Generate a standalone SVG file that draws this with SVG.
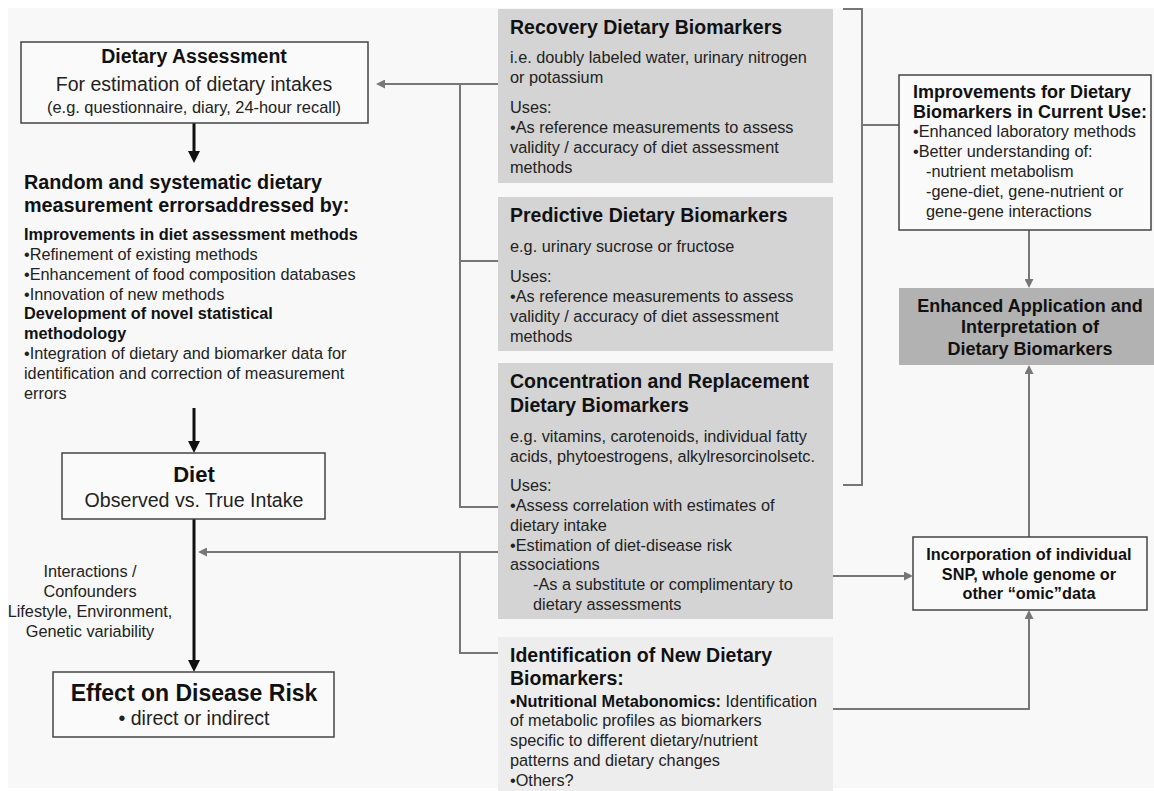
<svg xmlns="http://www.w3.org/2000/svg" width="1154" height="791" viewBox="0 0 1154 791">
<style>
text{font-family:"Liberation Sans",Arial,Helvetica,sans-serif;fill:#222}
.b{font-weight:bold;fill:#111}
.body{font-size:16.3px}
.t195{font-size:19.5px}
.t18{font-size:18px}
.mid{text-anchor:middle}
.gl{fill:none;stroke:#777;stroke-width:2}
.bl{fill:none;stroke:#111;stroke-width:3}
.box{fill:#fafafa;stroke:#444;stroke-width:1.5}
.gbox{fill:#d4d4d4}
</style>
<defs>
<marker id="ag" viewBox="0 0 10 10" refX="5" refY="5" markerWidth="9" markerHeight="9" markerUnits="userSpaceOnUse" orient="auto"><path d="M0,0 L10,5 L0,10 z" fill="#777"/></marker>
<marker id="ab" viewBox="0 0 10 10" refX="5" refY="5" markerWidth="12" markerHeight="12" markerUnits="userSpaceOnUse" orient="auto"><path d="M0,0 L10,5 L0,10 z" fill="#111"/></marker>
</defs>
<rect x="0" y="0" width="1154" height="791" fill="#ffffff"/>
<rect x="8" y="8" width="1146" height="780" fill="#f8f8f8"/>

<g id="connectors">
<path class="gl" d="M498,84 H380.5" marker-end="url(#ag)"/>
<path class="gl" d="M460,84 V507 H498"/>
<path class="gl" d="M460,261 H498"/>
<path class="gl" d="M498,552 H202.5" marker-end="url(#ag)"/>
<path class="gl" d="M460,552 V653 H498"/>
<path class="gl" d="M843,9 H862 V485 H843"/>
<path class="gl" d="M862,125 H899"/>
<path class="gl" d="M1029,230 V283.5" marker-end="url(#ag)"/>
<path class="gl" d="M1029,537 V369.5" marker-end="url(#ag)"/>
<path class="gl" d="M833,576 H908.5" marker-end="url(#ag)"/>
<path class="gl" d="M833,709 H1029 V614.5" marker-end="url(#ag)"/>
<path class="bl" d="M194,123 V157" marker-end="url(#ab)"/>
<path class="bl" d="M194,408 V447" marker-end="url(#ab)"/>
<path class="bl" d="M194,519 V666" marker-end="url(#ab)"/>
</g>

<g id="dietary-assessment">
<rect class="box" x="21" y="42" width="347" height="81"/>
<text class="b t195 mid" x="194" y="63">Dietary Assessment</text>
<text class="t195 mid" x="194" y="91">For estimation of dietary intakes</text>
<text class="mid" x="194" y="113" font-size="16.4">(e.g. questionnaire, diary, 24-hour recall)</text>
</g>

<g id="measurement-errors">
<text class="b" x="24" font-size="19.8"><tspan x="24" y="189">Random and systematic dietary</tspan><tspan x="24" y="212">measurement errorsaddressed by:</tspan></text>
<text class="body" x="24">
<tspan class="b" x="24" y="240">Improvements in diet assessment methods</tspan>
<tspan x="24" y="260">•Refinement of existing methods</tspan>
<tspan x="24" y="280">•Enhancement of food composition databases</tspan>
<tspan x="24" y="300">•Innovation of new methods</tspan>
<tspan class="b" x="24" y="319">Development of novel statistical</tspan>
<tspan class="b" x="24" y="339">methodology</tspan>
<tspan x="24" y="359">•Integration of dietary and biomarker data for</tspan>
<tspan x="24" y="379">identification and correction of measurement</tspan>
<tspan x="24" y="399">errors</tspan>
</text>
</g>

<g id="diet">
<rect class="box" x="62" y="453" width="263" height="66"/>
<text class="b mid" x="194" y="482" font-size="22">Diet</text>
<text class="mid" x="194" y="507" font-size="19.6">Observed vs. True Intake</text>
</g>

<g id="interactions-label">
<text class="body mid" x="90"><tspan x="90" y="577">Interactions /</tspan><tspan x="90" y="597">Confounders</tspan><tspan x="90" y="617">Lifestyle, Environment,</tspan><tspan x="90" y="637">Genetic variability</tspan></text>
</g>

<g id="effect-disease-risk">
<rect class="box" x="53" y="672" width="281" height="65"/>
<text class="b mid" x="194" y="701" font-size="23">Effect on Disease Risk</text>
<text class="mid" x="194" y="725" font-size="19.5">• direct or indirect</text>
</g>

<g id="recovery">
<rect class="gbox" x="498" y="9" width="335" height="174"/>
<text class="b t195" x="510" y="34">Recovery Dietary Biomarkers</text>
<text class="body"><tspan x="510" y="63">i.e. doubly labeled water, urinary nitrogen</tspan><tspan x="510" y="83">or potassium</tspan><tspan x="510" y="113">Uses:</tspan><tspan x="510" y="133">•As reference measurements to assess</tspan><tspan x="510" y="153">validity / accuracy of diet assessment</tspan><tspan x="510" y="173">methods</tspan></text>
</g>

<g id="predictive">
<rect class="gbox" x="498" y="197" width="335" height="154"/>
<text class="b t195" x="510" y="222">Predictive Dietary Biomarkers</text>
<text class="body"><tspan x="510" y="252">e.g. urinary sucrose or fructose</tspan><tspan x="510" y="282">Uses:</tspan><tspan x="510" y="302">•As reference measurements to assess</tspan><tspan x="510" y="322">validity / accuracy of diet assessment</tspan><tspan x="510" y="342">methods</tspan></text>
</g>

<g id="concentration">
<rect class="gbox" x="498" y="363" width="335" height="256"/>
<text class="b t195"><tspan x="510" y="388">Concentration and Replacement</tspan><tspan x="510" y="412">Dietary Biomarkers</tspan></text>
<text class="body"><tspan x="510" y="442">e.g. vitamins, carotenoids, individual fatty</tspan><tspan x="510" y="462">acids, phytoestrogens, alkylresorcinolsetc.</tspan><tspan x="510" y="491">Uses:</tspan><tspan x="510" y="511">•Assess correlation with estimates of</tspan><tspan x="510" y="531">dietary intake</tspan><tspan x="510" y="551">•Estimation of diet-disease risk</tspan><tspan x="510" y="570">associations</tspan><tspan x="533" y="590">-As a substitute or complimentary to</tspan><tspan x="533" y="610">dietary assessments</tspan></text>
</g>

<g id="identification">
<rect x="498" y="637" width="335" height="154" fill="#ededed"/>
<text class="b t195"><tspan x="510" y="662">Identification of New Dietary</tspan><tspan x="510" y="685">Biomarkers:</tspan></text>
<text class="body"><tspan x="510" y="707"><tspan class="b">•Nutritional Metabonomics:</tspan> Identification</tspan><tspan x="510" y="726">of metabolic profiles as biomarkers</tspan><tspan x="510" y="746">specific to different dietary/nutrient</tspan><tspan x="510" y="766">patterns and dietary changes</tspan><tspan x="510" y="786">•Others?</tspan></text>
</g>

<g id="improvements-current-use">
<rect class="box" x="899" y="75" width="252" height="155"/>
<text class="b t18"><tspan x="913" y="98">Improvements for Dietary</tspan><tspan x="913" y="118">Biomarkers in Current Use:</tspan></text>
<text class="body"><tspan x="913" y="137">•Enhanced laboratory methods</tspan><tspan x="913" y="157">•Better understanding of:</tspan><tspan x="926" y="177">-nutrient metabolism</tspan><tspan x="926" y="197">-gene-diet, gene-nutrient or</tspan><tspan x="926" y="217">gene-gene interactions</tspan></text>
</g>

<g id="enhanced-application">
<rect x="899" y="288" width="255" height="77" fill="#b2b2b2"/>
<text class="b t18 mid"><tspan x="1030" y="312">Enhanced Application and</tspan><tspan x="1030" y="333">Interpretation of</tspan><tspan x="1030" y="355">Dietary Biomarkers</tspan></text>
</g>

<g id="incorporation">
<rect class="box" x="913" y="537" width="234" height="73"/>
<text class="b body mid"><tspan x="1029" y="560">Incorporation of individual</tspan><tspan x="1029" y="580">SNP, whole genome or</tspan><tspan x="1029" y="599">other “omic”data</tspan></text>
</g>
</svg>
